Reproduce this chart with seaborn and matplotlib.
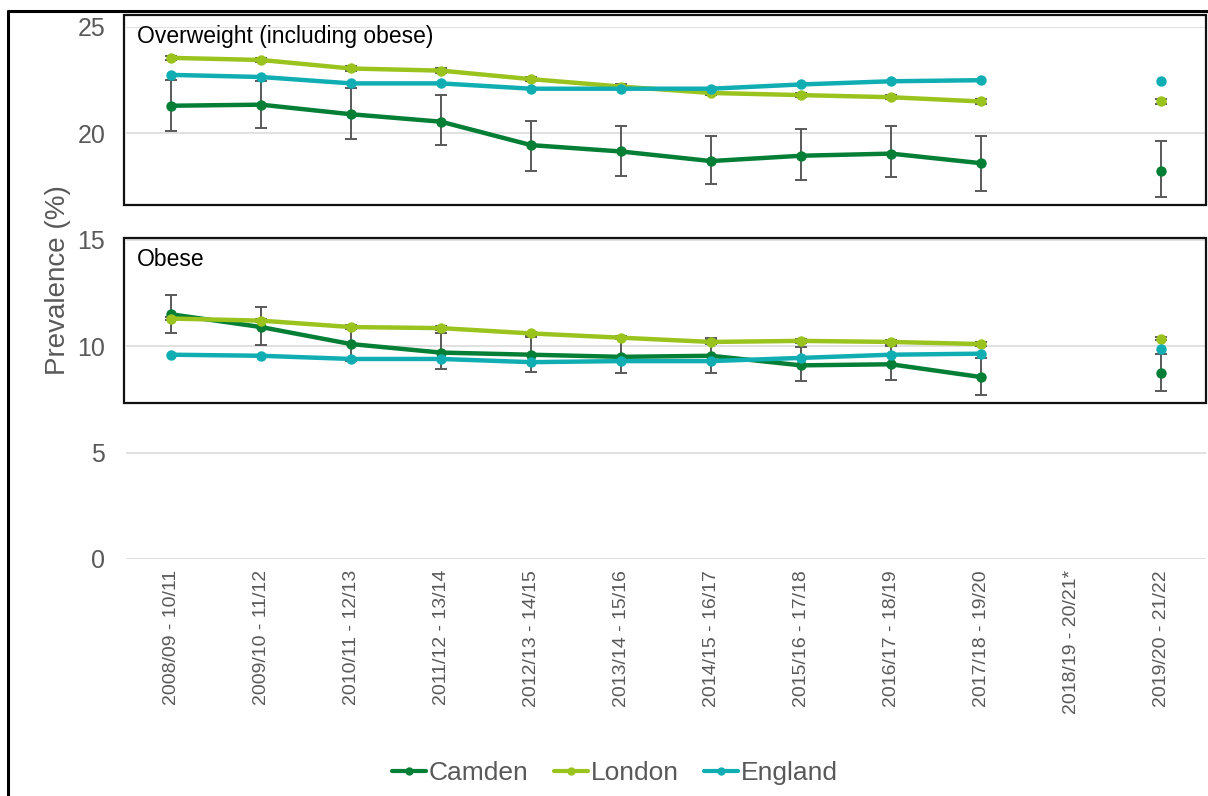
import numpy as np
import pandas as pd
import matplotlib
matplotlib.use("Agg")
import matplotlib.pyplot as plt
from matplotlib.patches import Rectangle
from matplotlib.lines import Line2D
import seaborn as sns

nan = np.nan

periods = ["2008/09 - 10/11", "2009/10 - 11/12", "2010/11 - 12/13", "2011/12 - 13/14",
           "2012/13 - 14/15", "2013/14 - 15/16", "2014/15 - 16/17", "2015/16 - 17/18",
           "2016/17 - 18/19", "2017/18 - 19/20", "2018/19 - 20/21*", "2019/20 - 21/22"]

# Overweight (including obese), %
camden_ow = [21.3, 21.35, 20.9, 20.55, 19.45, 19.15, 18.7, 18.95, 19.05, 18.6, nan, 18.25]
camden_ow_lo = [20.1, 20.25, 19.75, 19.45, 18.25, 18.0, 17.6, 17.8, 17.95, 17.3, nan, 17.0]
camden_ow_hi = [22.5, 22.45, 22.15, 21.8, 20.6, 20.35, 19.9, 20.2, 20.35, 19.9, nan, 19.65]
london_ow = [23.55, 23.45, 23.05, 22.95, 22.55, 22.2, 21.9, 21.8, 21.7, 21.5, nan, 21.5]
london_ow_lo = [23.45, 23.35, 22.95, 22.85, 22.45, 22.1, 21.8, 21.7, 21.6, 21.4, nan, 21.4]
london_ow_hi = [23.65, 23.55, 23.15, 23.05, 22.65, 22.3, 22.0, 21.9, 21.8, 21.6, nan, 21.6]
england_ow = [22.75, 22.65, 22.35, 22.35, 22.1, 22.1, 22.1, 22.3, 22.45, 22.5, nan, 22.45]

# Obese, %
camden_ob = [11.5, 10.9, 10.1, 9.7, 9.6, 9.5, 9.55, 9.1, 9.15, 8.55, nan, 8.75]
camden_ob_lo = [10.6, 10.05, 9.3, 8.95, 8.8, 8.75, 8.75, 8.35, 8.4, 7.7, nan, 7.9]
camden_ob_hi = [12.4, 11.85, 10.9, 10.6, 10.45, 10.4, 10.4, 9.95, 10.0, 9.45, nan, 9.65]
london_ob = [11.3, 11.2, 10.9, 10.85, 10.6, 10.4, 10.2, 10.25, 10.2, 10.1, nan, 10.35]
london_ob_lo = [11.22, 11.12, 10.82, 10.77, 10.52, 10.32, 10.12, 10.17, 10.12, 10.02, nan, 10.27]
london_ob_hi = [11.38, 11.28, 10.98, 10.93, 10.68, 10.48, 10.28, 10.33, 10.28, 10.18, nan, 10.43]
england_ob = [9.6, 9.55, 9.4, 9.4, 9.25, 9.3, 9.3, 9.45, 9.6, 9.65, nan, 9.85]

areas = ["Camden", "London", "England"]
colors = {"Camden": "#067F36", "London": "#9BC31E", "England": "#10AEB2"}
grey = "#595959"

# Long table: one row per point; the segment id breaks the line at the missing period
rows = []
series = {
    ("Overweight", "Camden"): camden_ow, ("Overweight", "London"): london_ow,
    ("Overweight", "England"): england_ow,
    ("Obese", "Camden"): camden_ob, ("Obese", "London"): london_ob,
    ("Obese", "England"): england_ob,
}
for (measure, area), vals in series.items():
    for i, v in enumerate(vals):
        if np.isnan(v):
            continue
        seg = 0 if i < 10 else 1
        rows.append({"pos": i, "value": v, "area": area,
                     "unit": f"{measure}-{area}-{seg}"})
df = pd.DataFrame(rows)

sns.set_theme(style="white")
plt.rcParams["font.family"] = ["Liberation Sans", "DejaVu Sans"]

W, H = 1208, 796
fig = plt.figure(figsize=(W / 100, H / 100), dpi=100)
ax = fig.add_axes([126 / W, 1 - 559 / H, 1080 / W, 532 / H])

ax.set_xlim(-0.5, 11.5)
ax.set_ylim(0, 25)
ax.set_yticks([0, 5, 10, 15, 20, 25])
ax.yaxis.grid(True, color="#D9D9D9", lw=1.1, zorder=0)
ax.xaxis.grid(False)
for s in ax.spines.values():
    s.set_visible(False)

pos = np.arange(len(periods))

# Confidence intervals
def draw_ci(vals, lo, hi):
    v = np.array(vals, float)
    ax.errorbar(pos, v, yerr=[v - np.array(lo, float), np.array(hi, float) - v],
                fmt="none", ecolor=grey, elinewidth=1.4, capsize=4.5, capthick=1.4,
                zorder=2)

draw_ci(camden_ow, camden_ow_lo, camden_ow_hi)
draw_ci(london_ow, london_ow_lo, london_ow_hi)
draw_ci(camden_ob, camden_ob_lo, camden_ob_hi)
draw_ci(london_ob, london_ob_lo, london_ob_hi)

sns.lineplot(data=df, x="pos", y="value", hue="area", hue_order=areas, units="unit",
             estimator=None, palette=colors, marker="o", markersize=7.5,
             markeredgewidth=0, linewidth=3.2, legend=False, ax=ax, zorder=3)

ax.set_xticks(pos)
ax.set_xticklabels(periods, rotation=90, fontsize=14, color=grey)
ax.tick_params(axis="x", length=0, pad=8)
ax.tick_params(axis="y", length=0, pad=15, labelsize=18, labelcolor=grey)
ax.set_xlabel("")
ax.set_ylabel("Prevalence (%)", fontsize=20, color=grey)
ax.yaxis.set_label_coords((71 - 126) / 1080, (559 - 280) / 532)

# Panels framing the two measures
def fig_box(x0, y0, x1, y1, label):
    fig.patches.append(Rectangle((x0 / W, 1 - y1 / H), (x1 - x0) / W, (y1 - y0) / H,
                                 transform=fig.transFigure, fill=False,
                                 edgecolor="#111111", lw=1.6, zorder=5))
    fig.text(137 / W, 1 - (y0 + 21) / H, label, fontsize=16.5, color="black",
             va="center", ha="left")

fig_box(124, 15, 1206, 205, "Overweight (including obese)")
fig_box(124, 238, 1206, 402.5, "Obese")

# Outer frame on the left and top
fig.add_artist(Line2D([8 / W, 8 / W], [0, 1 - 11 / H], transform=fig.transFigure,
                      color="black", lw=2.2))
fig.add_artist(Line2D([8 / W, 1], [1 - 11 / H, 1 - 11 / H], transform=fig.transFigure,
                      color="black", lw=2.2))

handles = [Line2D([], [], color=colors[a], lw=3.0, marker="o", markersize=6,
                  markeredgewidth=0) for a in areas]
leg = fig.legend(handles, areas, loc="center", bbox_to_anchor=(615 / W, 1 - 773 / H),
                 ncol=3, frameon=False, fontsize=19, handlelength=1.3,
                 handletextpad=0.1, columnspacing=0.95)
for t in leg.get_texts():
    t.set_color(grey)

fig.savefig("out.png", dpi=100)
